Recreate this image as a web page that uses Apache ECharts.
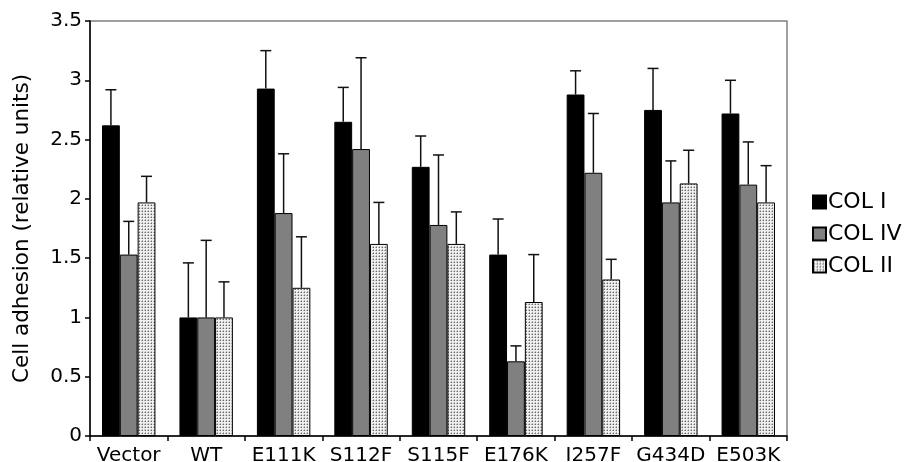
<!DOCTYPE html>
<html>
<head>
<meta charset="utf-8">
<script src="https://cdn.jsdelivr.net/npm/echarts@6/dist/echarts.min.js"></script>
<style>
html,body{margin:0;padding:0;background:#fff;}
#chart{width:907px;height:462px;}
</style>
</head>
<body>
<div id="chart"></div>
<script>
const categories = ['Vector','WT','E111K','S112F','S115F','E176K','I257F','G434D','E503K'];
const seriesNames = ['COL I','COL IV','COL II'];
const colI   = [2.62, 1.00, 2.93, 2.65, 2.27, 1.53, 2.88, 2.75, 2.72];
const colIV  = [1.53, 1.00, 1.88, 2.42, 1.78, 0.63, 2.22, 1.97, 2.12];
const colII  = [1.97, 1.00, 1.25, 1.62, 1.62, 1.13, 1.32, 2.13, 1.97];
const errI   = [0.30, 0.46, 0.32, 0.29, 0.26, 0.30, 0.20, 0.35, 0.28];
const errIV  = [0.28, 0.65, 0.50, 0.77, 0.59, 0.13, 0.50, 0.35, 0.36];
const errII  = [0.22, 0.30, 0.43, 0.35, 0.27, 0.40, 0.17, 0.28, 0.31];
const yTicks = [0, 0.5, 1, 1.5, 2, 2.5, 3, 3.5];

const FONT = "'DejaVu Sans', 'Liberation Sans', Arial, sans-serif";
const catGapPct = 31;

// dotted pattern
const pc = document.createElement('canvas');
pc.width = 3; pc.height = 3;
const pctx = pc.getContext('2d');
pctx.fillStyle = '#efefef'; pctx.fillRect(0,0,3,3);
pctx.fillStyle = '#6a6a6a'; pctx.fillRect(1,1,1,1);
pctx.fillStyle = '#b2b2b2'; pctx.fillRect(0,1,1,1); pctx.fillRect(1,0,1,1);
const dotPattern = {image: pc, repeat: 'repeat'};

const values = [colI, colIV, colII];
const errs = [errI, errIV, errII];
const colors = ['#000000', '#808080', dotPattern];

const chart = echarts.init(document.getElementById('chart'), null, {renderer: 'canvas'});

const barSeries = values.map((v, i) => ({
  name: seriesNames[i],
  type: 'bar',
  data: v,
  barGap: '0%',
  barCategoryGap: catGapPct + '%',
  itemStyle: {color: colors[i], borderColor: '#000', borderWidth: 1},
  emphasis: {disabled: true},
  z: 2
}));

const errSeries = values.map((v, i) => ({
  type: 'custom',
  name: seriesNames[i] + ' err',
  data: v.map((val, j) => [j, val, val + errs[i][j]]),
  z: 3,
  silent: true,
  renderItem: function (params, api) {
    const j = api.value(0);
    const base = api.coord([j, api.value(1)]);
    const top = api.coord([j, api.value(2)]);
    const catW = api.size([1, 0])[0];
    const barW = catW * (1 - catGapPct / 100) / 3;
    const x = base[0] + (i - 1) * barW;
    const cap = 5.5;
    const style = {stroke: '#111', lineWidth: 1.5};
    return {
      type: 'group',
      children: [
        {type: 'line', shape: {x1: x, y1: base[1], x2: x, y2: top[1]}, style: style},
        {type: 'line', shape: {x1: x - cap, y1: top[1], x2: x + cap, y2: top[1]}, style: style}
      ]
    };
  }
}));

chart.setOption({
  animation: false,
  backgroundColor: '#fff',
  grid: {left: 90, right: 120, top: 21, bottom: 26, outerBoundsMode: 'none', containLabel: false, show: true, borderColor: '#808080', borderWidth: 1.5, backgroundColor: 'transparent'},
  legend: {
    data: seriesNames,
    orient: 'vertical',
    left: 807,
    top: 186,
    itemWidth: 13,
    itemHeight: 13,
    itemGap: 10,
    icon: 'rect',
    selectedMode: false,
    textStyle: {fontFamily: FONT, fontSize: 22, color: '#000', lineHeight: 22, padding: [0,0,0,-3]}
  },
  xAxis: {
    type: 'category',
    data: categories,
    axisLine: {lineStyle: {color: '#000', width: 1.5}},
    axisTick: {show: true, length: 5, lineStyle: {color: '#000', width: 1.5}},
    axisLabel: {fontFamily: FONT, fontSize: 20, color: '#000', margin: 10, interval: 0, hideOverlap: false}
  },
  yAxis: {
    type: 'value',
    min: yTicks[0],
    max: yTicks[yTicks.length - 1],
    interval: 0.5,
    name: 'Cell adhesion (relative units)',
    nameLocation: 'middle',
    nameRotate: 90,
    nameGap: 57,
    nameTextStyle: {fontFamily: FONT, fontSize: 21.5, color: '#000'},
    splitLine: {show: false},
    axisLine: {show: true, lineStyle: {color: '#000', width: 1.5}},
    axisTick: {show: true, length: 5, lineStyle: {color: '#000', width: 1.5}},
    axisLabel: {fontFamily: FONT, fontSize: 20, color: '#000', margin: 8, padding: [10, 0, 0, 0]}
  },
  series: barSeries.concat(errSeries)
});
</script>
</body>
</html>
